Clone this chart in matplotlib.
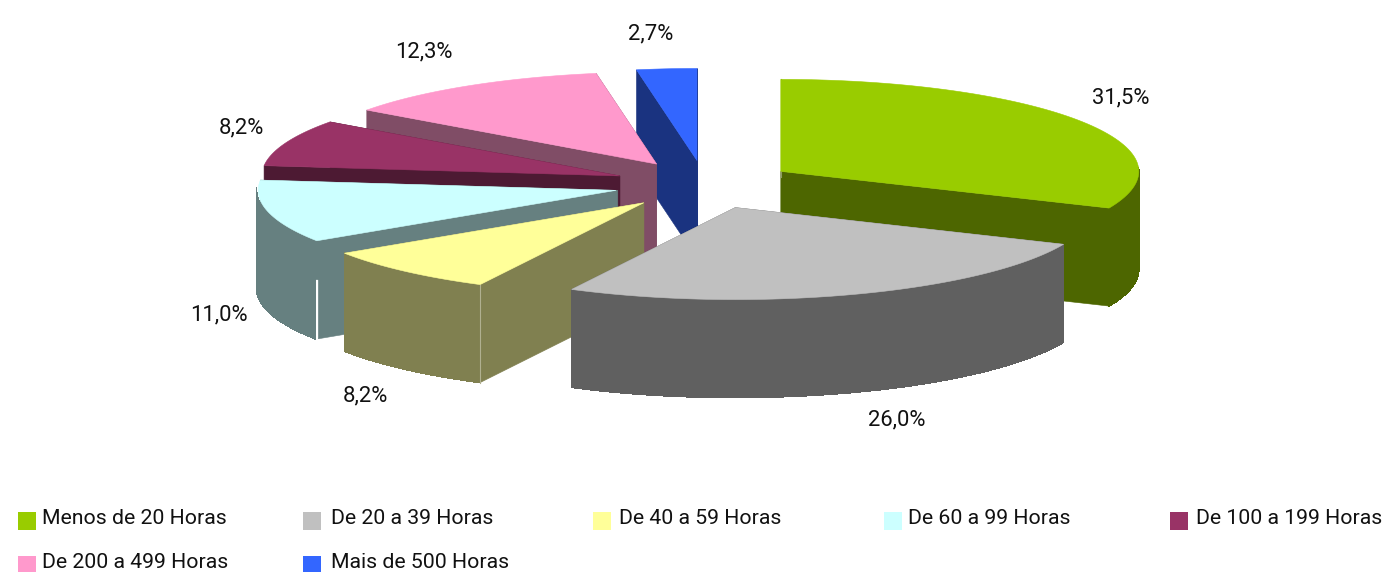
import numpy as np
import matplotlib
matplotlib.use("Agg")
import matplotlib.pyplot as plt
from matplotlib.collections import PolyCollection
from matplotlib.patches import Polygon, Rectangle

# ---- data ----
categories = ["Menos de 20 Horas", "De 20 a 39 Horas", "De 40 a 59 Horas",
              "De 60 a 99 Horas", "De 100 a 199 Horas", "De 200 a 499 Horas",
              "Mais de 500 Horas"]
values = [31.5, 26.0, 8.2, 11.0, 8.2, 12.3, 2.7]
labels = ["31,5%", "26,0%", "8,2%", "11,0%", "8,2%", "12,3%", "2,7%"]

# ---- styles and layout ----
colors = ["#99CC00", "#C0C0C0", "#FFFF99", "#CCFFFF", "#993366", "#FF99CC", "#3366FF"]
side_colors = ["#4D6600", "#606060", "#808050", "#668080", "#4D1A33", "#804D66", "#1A3380"]
label_xy = [(1121, 98), (897, 420), (365, 396), (219, 315), (241, 128), (424, 52), (651, 34)]
legend_box_xy = [(18, 512), (303, 512), (593, 512), (884, 512), (1170, 512), (18, 556), (303, 556)]
legend_text_xy = [(42, 518), (331, 518), (619, 518), (908, 518), (1196, 518), (42, 562), (331, 562)]
draw_order = [6, 5, 4, 3, 2, 0, 1]
corner_line = {0: "#8F9A66", 2: "#B0B090"}
seam_gap = {3: 1.6}

CX, CY = 704.7, 184.7      # pie centre in pixels
RX, RY = 358.0, 92.0       # ellipse radii
EX, EY = 91.0, 24.3        # explosion
DEPTH = 98.0

W, H = 1385, 572
fig = plt.figure(figsize=(W / 100, H / 100), dpi=100, facecolor="white")
ax = fig.add_axes([0, 0, 1, 1])
ax.set_xlim(0, W)
ax.set_ylim(H, 0)
ax.axis("off")

total = sum(values)
edges = np.concatenate([[0.0], np.cumsum(values)]) / total * 2 * np.pi

for i in draw_order:
    mid = (edges[i] + edges[i + 1]) / 2
    ax_x = CX + EX * np.sin(mid)
    ax_y = CY - EY * np.cos(mid)
    t = np.linspace(edges[i], edges[i + 1], 80)
    xs = ax_x + RX * np.sin(t)
    ys = ax_y - RY * np.cos(t)
    gap = seam_gap.get(i, 0.0)
    z = 3 + draw_order.index(i) * 3
    kw = dict(closed=True, facecolor=side_colors[i], edgecolor=side_colors[i], lw=0.4, zorder=z)
    # outer wall: only the front of the rim, as a strip of small aliased quads
    quads = [[(xs[k] - gap, ys[k]), (xs[k + 1] - gap, ys[k + 1]),
              (xs[k + 1] - gap, ys[k + 1] + DEPTH), (xs[k] - gap, ys[k] + DEPTH)]
             for k in range(len(t) - 1) if np.cos(t[k]) < 0.02 or np.cos(t[k + 1]) < 0.02]
    if quads:
        ax.add_collection(PolyCollection(quads, facecolors=side_colors[i], edgecolors=side_colors[i],
                                         linewidths=0.4, antialiaseds=False, zorder=z))
    # straight walls
    for k in (0, -1):
        shift = gap if k == 0 else 0.0
        ax.add_patch(Polygon([(ax_x + shift, ax_y), (xs[k] + shift, ys[k]),
                              (xs[k] + shift, ys[k] + DEPTH), (ax_x + shift, ax_y + DEPTH)], **kw))
    # corner highlight
    if i in corner_line:
        ax.plot([xs[0], xs[0]], [ys[0], ys[0] + DEPTH], color=corner_line[i], lw=0.8, zorder=z + 1)
    # top face
    ax.add_patch(Polygon(np.column_stack([np.r_[ax_x, xs], np.r_[ax_y, ys]]), closed=True,
                         facecolor=colors[i], edgecolor=colors[i], lw=0.4, zorder=z + 2))

font = "Roboto"
for s, (x, y) in zip(labels, label_xy):
    ax.text(x, y, s, ha="center", va="center", fontsize=15.8, family=font, color="#111111", zorder=40)

for name, col, (bx, by), (tx, ty) in zip(categories, colors, legend_box_xy, legend_text_xy):
    ax.add_patch(Rectangle((bx, by), 18, 18, facecolor=col, edgecolor="none", zorder=40))
    ax.text(tx, ty, name, ha="left", va="center", fontsize=15.3, family=font, color="#111111", zorder=40)

fig.savefig("out.png", dpi=100, facecolor="white")
